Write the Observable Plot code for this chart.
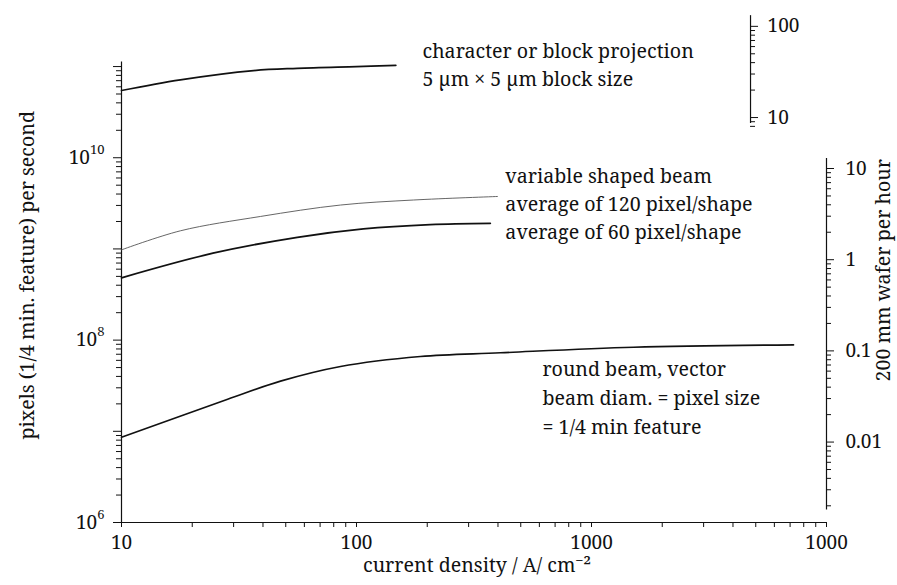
<!DOCTYPE html>
<html>
<head>
<meta charset="utf-8">
<script src="https://cdn.jsdelivr.net/npm/d3@7"></script>
<script src="https://cdn.jsdelivr.net/npm/@observablehq/plot@0.6"></script>
<style>
  html, body { margin: 0; padding: 0; background: #fff; }
  svg { display: block; }
  #chart svg, #chart svg text { font-family: "Noto Serif", "DejaVu Serif", serif !important; }
</style>
</head>
<body>
<div id="chart"></div>
<script>
// ---------- data ----------
const currentDensityTicks = [10, 100, 1000, 10000];
const currentDensityLabels = ["10", "100", "1000", "1000"];
const rateTicks = [1e6, 1e8, 1e10];
const rateExponents = ["6", "8", "10"];
const waferTicks = [10, 1, 0.1, 0.01];
const waferLabels = ["10", "1", "0.1", "0.01"];
const blockTicks = [100, 10];
const blockLabels = ["100", "10"];

// character or block projection
const charX = [10, 17.8, 36.5, 56, 100, 147];
const charY = [5.46e10, 7.15e10, 9.04e10, 9.57e10, 1.0e11, 1.03e11];
// variable shaped beam, average of 120 pixel/shape
const vsb120X = [10, 17.8, 39, 85.5, 175, 398];
const vsb120Y = [9.77e8, 1.58e9, 2.27e9, 3.03e9, 3.44e9, 3.76e9];
// variable shaped beam, average of 60 pixel/shape
const vsb60X = [10, 24.5, 56, 107, 206, 371];
const vsb60Y = [4.82e8, 8.97e8, 1.34e9, 1.66e9, 1.85e9, 1.91e9];
// round beam, vector
const roundX = [10, 28.3, 47.5, 85.5, 187, 410, 1510, 7240];
const roundY = [8.6e6, 2.25e7, 3.55e7, 5.14e7, 6.61e7, 7.26e7, 8.36e7, 8.87e7];

const charText = ["character or block projection", "5 \u00b5m \u00d7 5 \u00b5m block size"];
const vsbText = ["variable shaped beam", "average of 120 pixel/shape", "average of 60 pixel/shape"];
const roundText = ["round beam, vector", "beam diam. = pixel size", "= 1/4 min feature"];

// unit conversions of the two secondary axes (pixels/s -> wafers/h, blocks)
const waferFactor = 10 ** -8.882;
const blockFactor = 10 ** -9.441;

// ---------- layout ----------
const FONT = "Noto Serif, DejaVu Serif, serif";
const yTop = 10 ** 11.05;
const blockAxisX = 4750;
const TICK_FS = 19;
const EXP_FS = 13;
const ANN_FS = 19.6;

function logTicks(lo, hi) {
  const out = [];
  for (let e = Math.floor(Math.log10(lo)) - 1; e <= Math.ceil(Math.log10(hi)); e++) {
    for (let m = 1; m < 10; m++) {
      const v = m * Math.pow(10, e);
      if (v >= lo * 0.999 && v <= hi * 1.001) out.push(v);
    }
  }
  return out;
}
const isPow10 = v => Math.abs(Math.log10(v) - Math.round(Math.log10(v))) < 1e-9;
const zip = (xs, ys) => xs.map((x, i) => ({x, y: ys[i]}));
const charData = zip(charX, charY);
const vsb120Data = zip(vsb120X, vsb120Y);
const vsb60Data = zip(vsb60X, vsb60Y);
const roundData = zip(roundX, roundY);
const xAll = logTicks(10, 10000);
const yAll = logTicks(1e6, 1e11);
const waferAll = logTicks(0.002, 10);
const blockAll = logTicks(8, 100);

const lineOpts = {x: "x", y: "y", curve: "catmull-rom", stroke: "#111", strokeLinecap: "round"};
const T = {fontFamily: FONT, fill: "#111"};

const plot = Plot.plot({
  width: 897, height: 585,
  marginLeft: 121, marginRight: 71, marginTop: 61.5, marginBottom: 63,
  style: {fontFamily: FONT, fontSize: "19px", background: "#fff", color: "#111", overflow: "visible"},
  x: {type: "log", domain: [10, 10000]},
  y: {type: "log", domain: [1e6, yTop]},
  marks: [
    // frame lines
    Plot.ruleX([10], {y1: 1e6, y2: yTop, stroke: "#111", strokeWidth: 1.2}),
    Plot.ruleY([1e6], {x1: 10, x2: 10000, stroke: "#111", strokeWidth: 1.2}),
    // bottom axis
    Plot.axisX({anchor: "bottom", ticks: xAll, tickSize: 5, tickFormat: () => "", label: null, stroke: "#111"}),
    Plot.text(currentDensityTicks, {...T, x: d => d, text: (d, i) => currentDensityLabels[i], frameAnchor: "bottom", dy: 26, fontSize: TICK_FS}),
    // left axis
    Plot.axisY({anchor: "left", ticks: yAll.filter(v => !isPow10(v)), tickSize: 5, tickFormat: () => "", label: null, stroke: "#111"}),
    Plot.axisY({anchor: "left", ticks: yAll.filter(isPow10), tickSize: 8, tickFormat: () => "", label: null, stroke: "#111"}),
    ...rateTicks.map((v, i) => Plot.text([v], {...T, y: d => d, text: () => "10", frameAnchor: "left", textAnchor: "end",
      dx: -17 - 7.3 * rateExponents[i].length, fontSize: TICK_FS})),
    Plot.text(rateTicks, {...T, y: d => d, text: (d, i) => rateExponents[i], frameAnchor: "left", textAnchor: "end",
      dx: -17, dy: -8, fontSize: EXP_FS}),
    // right axis B: 200 mm wafer per hour
    Plot.ruleX([10000], {y1: 0.0018 / waferFactor, y2: 12.9 / waferFactor, stroke: "#111", strokeWidth: 1.2}),
    Plot.ruleY(waferAll, {y: d => d / waferFactor, x1: 10000, x2: d => 10000 * 10 ** ((isPow10(d) ? 8 : 5) / 235), stroke: "#111"}),
    Plot.text(waferTicks, {...T, y: d => d / waferFactor, text: (d, i) => waferLabels[i], frameAnchor: "right", textAnchor: "start", dx: 19, fontSize: TICK_FS}),
    Plot.text(["200 mm wafer per hour"], {...T, frameAnchor: "right", textAnchor: "middle", rotate: -90, dx: 57, dy: -22, fontSize: ANN_FS}),
    // right axis A: block scale
    Plot.ruleX([blockAxisX], {y1: 8.6 / blockFactor, y2: 131 / blockFactor, stroke: "#111", strokeWidth: 1.2}),
    Plot.ruleY(blockAll, {y: d => d / blockFactor, x1: blockAxisX, x2: d => blockAxisX * 10 ** ((isPow10(d) ? 8 : 5) / 235), stroke: "#111"}),
    Plot.text(blockTicks, {...T, y: d => d / blockFactor, x: blockAxisX, text: (d, i) => blockLabels[i], textAnchor: "start", dx: 17, fontSize: TICK_FS}),
    // axis titles
    Plot.text(["pixels (1/4 min. feature) per second"], {...T, frameAnchor: "left", textAnchor: "middle", rotate: -90, dx: -94, dy: -17, fontSize: ANN_FS}),
    Plot.text(["current density / A/ cm\u207b\u00b2"], {...T, frameAnchor: "bottom", textAnchor: "middle", dx: 3, dy: 49, fontSize: ANN_FS}),
    // curves
    Plot.line(charData, {...lineOpts, strokeWidth: 1.7}),
    Plot.line(vsb120Data, {...lineOpts, stroke: "#555", strokeWidth: 0.9}),
    Plot.line(vsb60Data, {...lineOpts, strokeWidth: 1.8}),
    Plot.line(roundData, {...lineOpts, strokeWidth: 1.6}),
    // annotations
    Plot.text([charText.join("\n")], {...T, x: 191, y: 1.1e11, textAnchor: "start", lineAnchor: "middle", lineHeight: 1.43, fontSize: ANN_FS}),
    Plot.text([vsbText.join("\n")], {...T, x: 430, y: 3.23e9, textAnchor: "start", lineAnchor: "middle", lineHeight: 1.43, fontSize: ANN_FS}),
    Plot.text([roundText.join("\n")], {...T, x: 618, y: 2.47e7, textAnchor: "start", lineAnchor: "middle", lineHeight: 1.48, fontSize: ANN_FS})
  ]
});
document.getElementById("chart").append(plot);
</script>
</body>
</html>
